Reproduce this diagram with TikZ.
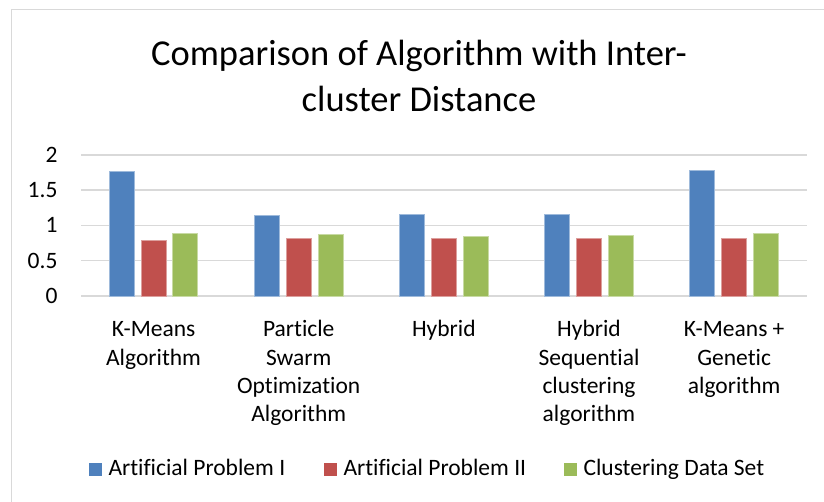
\documentclass[tikz,border=0pt]{standalone}
\usepackage{fontspec}
\setmainfont[Ligatures=NoCommon]{Carlito}
\definecolor{serA}{HTML}{4F81BD}
\definecolor{serB}{HTML}{C0504D}
\definecolor{serC}{HTML}{9BBB59}
\definecolor{gridc}{HTML}{D9D9D9}
\begin{document}
\begin{tikzpicture}[x=1pt,y=-1pt,
  lbl/.style={font=\fontsize{23.5}{28.3}\selectfont, inner sep=0pt, align=center},
  ttl/.style={font=\fontsize{36.5}{46}\selectfont, inner sep=0pt, align=center},
  gridline/.style={draw=gridc, line width=1.5pt},
  barA/.style={fill=serA, draw=serA!55!white, line width=0.8pt},
  barB/.style={fill=serB, draw=serB!55!white, line width=0.8pt},
  barC/.style={fill=serC, draw=serC!55!white, line width=0.8pt},
  keybox/.style={minimum size=13.5pt, inner sep=0pt, anchor=north west}]
\useasboundingbox (0,0) rectangle (824,502);
% chart frame
\draw[gridc, line width=1pt] (11,502) -- (11,10) -- (824,10);

% title (base anchor sits on the last line)
\node[ttl, anchor=base] (title) at (419,111.7) {Comparison of Algorithm with Inter-\\cluster Distance};

% value axis: 0 at y=296, 70.6 per unit
\foreach \v/\t [count=\k from 0] in {0/0, 0.5/0.5, 1/1, 1.5/1.5, 2/2} {
  \draw[gridline] (81,{296-70.6*\v}) -- (806.7,{296-70.6*\v});
  \node[lbl, anchor=east] (ytick\k) at (57.7,{296-70.6*\v}) {\t};
}

% bars: group centre, series values
\foreach \a/\b/\c [count=\g] in {1.77/0.79/0.88, 1.14/0.81/0.87, 1.15/0.81/0.85, 1.15/0.81/0.86, 1.78/0.81/0.89} {
  \pgfmathsetmacro{\cx}{81+145.14*(\g-0.5)}
  \draw[barA] ({\cx-44.3},296) rectangle ({\cx-19.3},{296-70.6*\a});
  \draw[barB] ({\cx-12.5},296) rectangle ({\cx+12.5},{296-70.6*\b});
  \draw[barC] ({\cx+19.3},296) rectangle ({\cx+44.3},{296-70.6*\c});
}

% category labels: text / number of lines
\foreach \txt/\n [count=\g] in {{K-Means\\Algorithm}/2,
                             {Particle\\Swarm\\Optimization\\Algorithm}/4,
                             {Hybrid}/1,
                             {Hybrid\\Sequential\\clustering\\algorithm}/4,
                             {K-Means +\\Genetic\\algorithm}/3} {
  \pgfmathsetmacro{\cx}{81+145.14*(\g-0.5)}
  \pgfmathsetmacro{\cy}{336.7+28.3*(\n-1)}
  \node[lbl, anchor=base] (cat\g) at (\cx,\cy) {\txt};
}

% legend
\node[keybox, fill=serA] (keyA) at (88.3,462.3) {};
\node[lbl, anchor=base west] (legA) at (108.3,475.7) {Artificial Problem I};
\node[keybox, fill=serB] (keyB) at (323.3,462.3) {};
\node[lbl, anchor=base west] (legB) at (343.3,475.7) {Artificial Problem II};
\node[keybox, fill=serC] (keyC) at (563.3,462.3) {};
\node[lbl, anchor=base west] (legC) at (583.3,475.7) {Clustering Data Set};
\end{tikzpicture}
\end{document}
